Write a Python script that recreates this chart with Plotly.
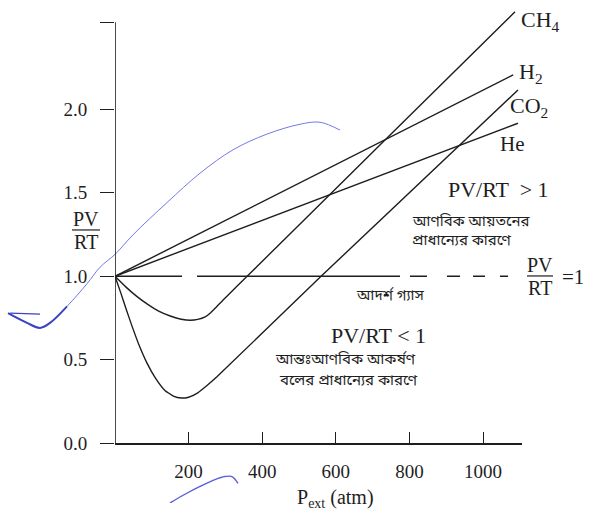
import plotly.graph_objects as go

W, H = 595, 514

# ---------------- data (P in atm, PV/RT) ----------------
he_p = [0, 1095]
he_v = [1.0, 1.916]
h2_p = [0, 1082]
h2_v = [1.0, 2.205]
ch4_p = [0, 30, 60, 90, 120, 150, 180, 205, 225, 245, 260, 275, 300, 359, 700, 1087]
ch4_v = [1.0, 0.935, 0.878, 0.83, 0.79, 0.762, 0.743, 0.737, 0.742, 0.757, 0.782, 0.815, 0.872, 1.0, 1.742, 2.583]
co2_p = [0, 15, 30, 46, 65, 87, 110, 135, 160, 180, 200, 225, 250, 277, 560, 1095]
co2_v = [1.0, 0.905, 0.805, 0.703, 0.59, 0.48, 0.39, 0.318, 0.281, 0.271, 0.276, 0.302, 0.346, 0.398, 1.0, 2.115]
ideal_p = [0, 1068]
ideal_v = [1.0, 1.0]

x_ticks = [200, 400, 600, 800, 1000]
y_ticks = [0.0, 0.5, 1.0, 1.5, 2.0, 2.52]
y_ticktext = ["0.0", "0.5", "1.0", "1.5", "2.0", ""]

# hand-drawn blue pen marks on the scan (same units)
pen1_p = [-290.8, -239.1, -203.8, -176.6, -130.4, -76.1, -40.8, 0, 48.9, 141.3, 231.0, 320.7, 413.0, 502.7, 557.1, 611.4]
pen1_v = [0.779, 0.721, 0.691, 0.721, 0.820, 0.955, 1.054, 1.131, 1.248, 1.441, 1.617, 1.757, 1.851, 1.910, 1.922, 1.875]
pen2_p = [-285.0, -203.8]
pen2_v = [0.779, 0.773]
pen3_p = [149.5, 190.2, 231.0, 271.7, 298.9, 318.0, 334.2]
pen3_v = [-0.357, -0.305, -0.258, -0.217, -0.199, -0.199, -0.240]

# ---------------- layout geometry (pixels) ----------------
X0, X1 = 115, 522      # plot box left/right
Y0, YT = 453, 5        # pixel of PV/RT=0 and top of plot box
SX, SY = 0.368, 170.7  # px per atm, px per unit

SERIF = "Liberation Serif, Times New Roman, serif"
BENG = "Noto Sans Bengali, Lohit Bengali, Noto Serif Bengali, FreeSans, sans-serif"
INK = "#1e1e1e"

fig = go.Figure()

def curve(p, v, width=1.4, dash="solid", shape="spline"):
    fig.add_trace(go.Scatter(x=p, y=v, mode="lines",
                             line=dict(color=INK, width=width, dash=dash, shape=shape, smoothing=0.5),
                             hoverinfo="skip"))

curve(he_p, he_v)
curve(h2_p, h2_v)
curve(ch4_p, ch4_v)
curve(co2_p, co2_v)
curve(ideal_p, ideal_v, width=1.6,
      dash="67px,15px,203px,10px,17px,20px,13px,13px,12px,15px,8px,30px", shape="linear")

# pen marks on a full-page overlay axis with the same scale
fig.add_trace(go.Scatter(x=pen1_p, y=pen1_v, mode="lines", xaxis="x2", yaxis="y2",
                         line=dict(color="#7479e6", width=1.0, shape="spline"), hoverinfo="skip"))
fig.add_trace(go.Scatter(x=pen1_p[:5], y=pen1_v[:5], mode="lines", xaxis="x2", yaxis="y2",
                         line=dict(color="#3b42c4", width=2, shape="spline"), hoverinfo="skip"))
fig.add_trace(go.Scatter(x=pen2_p, y=pen2_v, mode="lines", xaxis="x2", yaxis="y2",
                         line=dict(color="#3b42c4", width=1.2), hoverinfo="skip"))
fig.add_trace(go.Scatter(x=pen3_p, y=pen3_v, mode="lines", xaxis="x2", yaxis="y2",
                         line=dict(color="#5a5fd8", width=1.4, shape="spline"), hoverinfo="skip"))


def pp(x, y):
    return x / W, 1 - y / H

annotations = []

def label(text, x, y, size, family=SERIF, xanchor="center"):
    px, py = pp(x, y)
    annotations.append(dict(text=text, x=px, y=py, xref="paper", yref="paper",
                            xanchor=xanchor, yanchor="middle", showarrow=False,
                            font=dict(family=family, size=size, color=INK)))

label("CH<sub>4</sub>", 519, 21, 22, xanchor="left")
label("H<sub>2</sub>", 517, 75, 22, xanchor="left")
label("CO<sub>2</sub>", 508, 109, 22, xanchor="left")
label("He", 498, 147, 21, xanchor="left")
label("PV/RT  > 1", 446, 194, 22, xanchor="left")
label("আণবিক আয়তনের", 410, 227, 15, family=BENG, xanchor="left")
label("প্রাধান্যের কারণে", 410, 246, 15, family=BENG, xanchor="left")
label("আদর্শ গ্যাস", 390, 302, 15, family=BENG)
label("PV/RT < 1", 378, 343, 22)
label("আন্তঃআণবিক আকর্ষণ", 273, 368, 15, family=BENG, xanchor="left")
label("বলের প্রাধান্যের কারণে", 277, 389, 15, family=BENG, xanchor="left")
label("PV", 540, 271, 20)
label("RT", 540, 294, 20)
label("=1", 573, 283, 21)
label("PV", 86, 224, 20)
label("RT", 86, 247, 20)
label("P<sub>ext</sub> (atm)", 335, 509, 20)

shapes = [
    # y axis line up to the top tick
    dict(type="line", xref="x", yref="y", x0=0, x1=0, y0=0, y1=y_ticks[-1],
         line=dict(color=INK, width=1.6)),
    # fraction bars
    dict(type="line", xref="paper", yref="paper",
         x0=pp(527, 0)[0], x1=pp(553, 0)[0], y0=pp(0, 282)[1], y1=pp(0, 282)[1],
         line=dict(color=INK, width=1.2)),
    dict(type="line", xref="paper", yref="paper",
         x0=pp(72, 0)[0], x1=pp(100, 0)[0], y0=pp(0, 235)[1], y1=pp(0, 235)[1],
         line=dict(color=INK, width=1.2)),
]

fig.update_layout(
    width=W, height=H,
    margin=dict(l=0, r=0, t=0, b=0),
    paper_bgcolor="white",
    plot_bgcolor="rgba(0,0,0,0)",
    showlegend=False,
    annotations=annotations,
    shapes=shapes,
    xaxis=dict(domain=[X0 / W, X1 / W], range=[0, (X1 - X0) / SX],
               tickvals=x_ticks, ticks="inside", ticklen=12, tickwidth=1.3, tickcolor=INK,
               tickfont=dict(family=SERIF, size=19, color=INK), ticklabelstandoff=10,
               showline=True, linecolor=INK, linewidth=1.6,
               showgrid=False, zeroline=False, anchor="y"),
    yaxis=dict(domain=[(H - Y0) / H, (H - YT) / H], range=[0, (Y0 - YT) / SY],
               tickvals=y_ticks, ticktext=y_ticktext, ticks="outside", ticklen=14,
               tickwidth=1.3, tickcolor=INK,
               tickfont=dict(family=SERIF, size=19, color=INK), ticklabelstandoff=9,
               showline=False, showgrid=False, zeroline=False, anchor="x"),
    xaxis2=dict(domain=[0, 1], range=[-X0 / SX, (W - X0) / SX], visible=False, anchor="y2"),
    yaxis2=dict(domain=[0, 1], range=[(Y0 - H) / SY, Y0 / SY], visible=False, anchor="x2"),
)

fig.write_html("out.html")
